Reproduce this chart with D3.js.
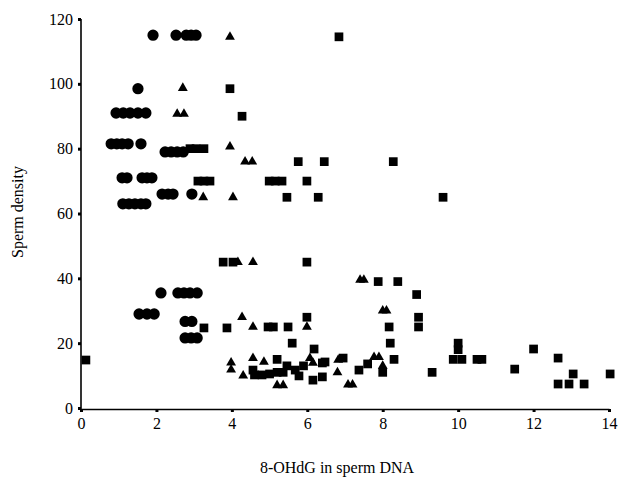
<!DOCTYPE html>
<html lang="en">
<head>
  <meta charset="utf-8">
  <title>Sperm density vs 8-OHdG</title>
  <script src="https://d3js.org/d3.v7.min.js"></script>
  <style>
    body { margin: 0; background: #fff; }
    svg text { font-family: "Liberation Serif", "DejaVu Serif", serif; fill: #000; }
  </style>
</head>
<body>
<script type="text/javascript">

var svg_width = 622;
var svg_height = 477;

// data: [8-OHdG, sperm density]
var circles = [
  [1.91,115],[2.52,115],[2.79,115],[2.92,115],[3.05,115],
  [1.51,98.5],
  [0.93,91],[1.12,91],[1.30,91],[1.51,91],[1.72,91],
  [0.80,81.5],[0.95,81.5],[1.09,81.5],[1.25,81.5],[1.59,81.5],
  [2.23,79],[2.39,79],[2.55,79],[2.71,79],
  [1.09,71],[1.22,71],[1.62,71],[1.75,71],[1.88,71],
  [2.15,66],[2.31,66],[2.44,66],[2.94,66],
  [1.11,63],[1.27,63],[1.43,63],[1.59,63],[1.72,63],
  [2.12,35.5],[2.57,35.5],[2.73,35.5],[2.89,35.5],[3.08,35.5],
  [1.54,29],[1.75,29],[1.94,29],
  [2.76,26.7],[2.94,26.7],
  [2.76,21.6],[2.92,21.6],[3.08,21.6]
];

var triangles = [
  [3.95,114.5],[2.7,98.7],[2.55,90.7],[2.73,90.7],[3.95,80.6],
  [4.35,76],[4.54,76],[3.24,65],[4.03,65],
  [4.16,45],[4.56,45],[7.4,39.5],[7.5,39.5],[8.0,30],[8.1,30],
  [4.27,28],[4.56,25],[5.99,25],
  [3.98,14],[3.98,11.8],[4.3,10],[4.56,15.4],[4.85,14.2],
  [5.2,7],[5.36,7],[6.07,15.4],[6.15,13.9],
  [6.82,14.8],[6.8,11],[7.08,7.2],[7.2,7.2],
  [7.77,15.7],[7.9,15.7],[8.0,13]
];

var squares = [
  [0.13,14.8],[6.84,114.5],[3.95,98.5],[4.27,90],
  [2.89,80],[3.05,80],[3.26,80],
  [5.76,76],[6.45,76],[8.28,76],
  [3.1,70],[3.26,70],[3.42,70],[4.99,70],[5.15,70],[5.33,70],[5.99,70],
  [5.46,65],[6.29,65],[9.6,65],
  [3.77,45],[4.03,45],[5.99,45],
  [7.88,39],[8.4,39],[8.9,35],[8.95,28],[8.95,25],
  [3.26,24.7],[3.87,24.7],[4.96,25],[5.1,25],[5.49,25],[5.99,28],
  [8.17,25],[8.2,20],[8.3,15],[5.6,20],[6.18,18.2],
  [5.2,15],[5.46,13],[5.68,11.7],[5.78,9.9],[5.9,13],[6.15,8.6],
  [6.4,13.9],[6.47,14.2],[6.4,9.6],
  [6.95,15.4],[7.37,11.7],[7.6,13.6],[8.0,11],
  [4.56,11.7],[4.6,10.2],[4.8,10.2],[5.0,10.5],[5.2,11],[5.36,11],
  [10.0,20],[10.0,18],[9.87,15],[10.1,15],[10.5,15],[10.63,15],
  [9.31,11],[11.5,12],[12.0,18.2],[12.65,15.4],
  [12.65,7.4],[12.94,7.4],[13.05,10.5],[13.34,7.4],[14.03,10.5]
];

var xTicks = [0, 2, 4, 6, 8, 10, 12, 14];
var yTicks = [0, 20, 40, 60, 80, 100, 120];

var svg = d3.select("body")
      .append("svg")
      .attr("width", svg_width)
      .attr("height", svg_height);

var x = d3.scaleLinear().domain([0, 14]).range([81, 609]);
var y = d3.scaleLinear().domain([0, 120]).range([408, 19]);

// axes
var xAxis = svg.append("g")
   .attr("transform", "translate(0,409)")
   .call(d3.axisBottom(x).tickValues(xTicks).tickSize(3).tickSizeOuter(0).tickPadding(6));
var yAxis = svg.append("g")
   .attr("transform", "translate(81,0)")
   .call(d3.axisLeft(y).tickValues(yTicks).tickSize(3).tickSizeOuter(0).tickPadding(5));

[xAxis, yAxis].forEach(function(a) {
  a.select(".domain").attr("stroke", "#000").attr("stroke-width", 1.6);
  a.selectAll(".tick line").attr("stroke", "#000").attr("stroke-width", 3);
  a.selectAll(".tick text").attr("font-size", "16px").attr("fill", "#000");
});
yAxis.select(".domain").attr("d", "M0," + y(120) + "V410");

function drawPoints(data, type, size) {
  svg.append("g")
     .selectAll("path")
     .data(data)
     .enter()
       .append("path")
       .attr("d", d3.symbol().type(type).size(size))
       .attr("transform", function(d) {
          return "translate(" + x(d[0]) + "," + y(d[1]) + ")";
       })
       .attr("fill", "#000");
}

drawPoints(circles, d3.symbolCircle, 100);
drawPoints(squares, d3.symbolSquare, 76);
drawPoints(triangles, d3.symbolTriangle, 42);

// axis titles
svg.append("text")
   .text("8-OHdG in sperm DNA")
   .attr("x", 337)
   .attr("y", 473)
   .attr("text-anchor", "middle")
   .attr("font-size", "16px");

svg.append("text")
   .text("Sperm density")
   .attr("transform", "translate(23,212) rotate(-90)")
   .attr("text-anchor", "middle")
   .attr("font-size", "16px");

</script>
</body>
</html>
